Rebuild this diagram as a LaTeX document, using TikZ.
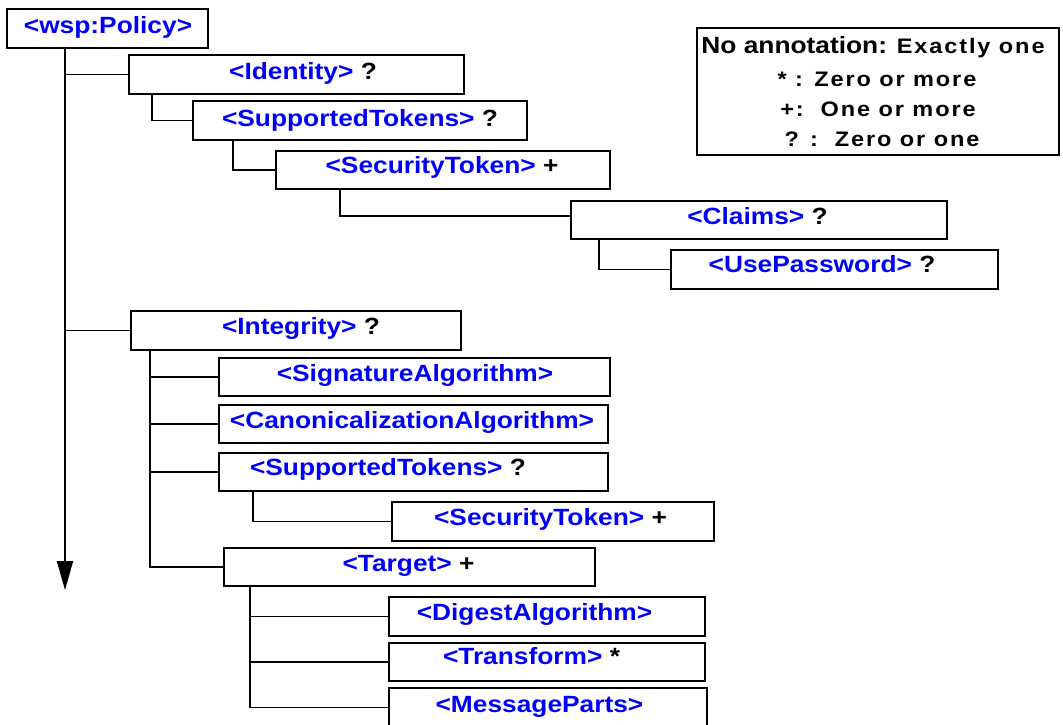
\documentclass[tikz,border=0pt]{standalone}
\usepackage{fontspec}
\setmainfont{Liberation Sans}[FakeStretch=1.12]
\newfontfamily\keyfamily{Liberation Sans}[FakeStretch=1.12, LetterSpace=9]
\usetikzlibrary{arrows.meta}
\definecolor{tagblue}{RGB}{0,0,250}
\newcommand{\mult}[1]{\textcolor{black}{#1}}
\newcommand{\keyfont}{\keyfamily\fontsize{21}{25}\selectfont\bfseries}
\tikzset{
    box/.style 2 args={draw, rectangle, inner sep=0pt, minimum width=#1, minimum height=#2},
    tag/.style={anchor=base, text=tagblue, font=\fontsize{23.5}{28}\selectfont\bfseries},
    keytext/.style={anchor=base, font=\keyfont}
}

\begin{document}
\begin{tikzpicture}[x=1pt, y=-1pt, line width=1.8pt]
    \useasboundingbox (0,0) rectangle (1063,725);

    % Draw the element boxes
    \node[box={201.5pt}{39.5pt}] (policy) at (107.5,28.5) {};
    \node[box={335.5pt}{39.5pt}] (identity) at (296.5,74.5) {};
    \node[box={334.5pt}{39.5pt}] (suptok1) at (360,120.5) {};
    \node[box={334.5pt}{38.5pt}] (sectok1) at (443,170) {};
    \node[box={376.5pt}{38.5pt}] (claims) at (759,220) {};
    \node[box={327.5pt}{39.5pt}] (usepw) at (834.5,269.5) {};
    \node[box={330.5pt}{39.5pt}] (integrity) at (296,330.5) {};
    \node[box={391.5pt}{38.5pt}] (sigalg) at (414.5,377) {};
    \node[box={389.5pt}{38.5pt}] (canon) at (413.5,424) {};
    \node[box={389.5pt}{38.5pt}] (suptok2) at (413.5,472) {};
    \node[box={322.5pt}{39.5pt}] (sectok2) at (553,521.5) {};
    \node[box={371.5pt}{38.5pt}] (target) at (409.5,567) {};
    \node[box={316.5pt}{39.5pt}] (digest) at (547,616.5) {};
    \node[box={316.5pt}{38.5pt}] (transform) at (547,662) {};
    \node[box={318.5pt}{39.5pt}] (msgparts) at (548,707.5) {};

    % Labels of the elements
    \node[tag] (policy-t) at (108,33.5) {<wsp:Policy>};
    \node[tag] (identity-t) at (303,79.5) {<Identity> \mult{?}};
    \node[tag] (suptok1-t) at (360,126.5) {<SupportedTokens> \mult{?}};
    \node[tag] (sectok1-t) at (442,173) {<SecurityToken> \mult{+}};
    \node[tag] (claims-t) at (757.5,224.5) {<Claims> \mult{?}};
    \node[tag] (usepw-t) at (822,272.5) {<UsePassword> \mult{?}};
    \node[tag] (integrity-t) at (301,334.5) {<Integrity> \mult{?}};
    \node[tag] (sigalg-t) at (415,381) {<SignatureAlgorithm>};
    \node[tag] (canon-t) at (412,428.5) {<CanonicalizationAlgorithm>};
    \node[tag] (suptok2-t) at (388,475.5) {<SupportedTokens> \mult{?}};
    \node[tag] (sectok2-t) at (550.5,525.5) {<SecurityToken> \mult{+}};
    \node[tag] (target-t) at (408.5,571) {<Target> \mult{+}};
    \node[tag] (digest-t) at (534.5,620.5) {<DigestAlgorithm>};
    \node[tag] (transform-t) at (531.5,664.5) {<Transform> \mult{*}};
    \node[tag] (msgparts-t) at (539.5,712) {<MessageParts>};

    % Draw the main axis with its two branches
    \coordinate (trunktip) at (65,590);
    \draw[-{Triangle[width=16pt,length=29pt]}] (policy.south -| trunktip) -- (trunktip);
    \draw (identity.west -| trunktip) -- (identity.west);
    \draw (integrity.west -| trunktip) -- (integrity.west);

    % Draw the nested connectors
    \draw ([xshift=24pt]identity.south west) |- (suptok1.west);
    \draw ([xshift=41pt]suptok1.south west) |- (sectok1.west);
    \draw ([xshift=65pt]sectok1.south west) |- ([yshift=4pt]claims.west);
    \draw ([xshift=29pt]claims.south west) |- (usepw.west);
    \foreach \c in {sigalg,canon,suptok2,target}
        \draw ([xshift=20pt]integrity.south west) |- (\c.west);
    \draw ([xshift=35pt]suptok2.south west) |- (sectok2.west);
    \foreach \c in {digest,transform,msgparts}
        \draw ([xshift=27pt]target.south west) |- (\c.west);

    % Legend
    \node[box={362.5pt}{127.5pt}] (legend) at (878,91.5) {};
    \node[anchor=base, font=\fontsize{23.5}{28}\selectfont\bfseries] (legend-1) at (873,54)
        {No annotation: {\keyfont Exactly one}};
    \node[keytext] (legend-2) at (877,86.5) {* : Zero or more};
    \node[keytext] (legend-3) at (878,116.5) {+:\ \ One or more};
    \node[keytext] (legend-4) at (882,146.5) {? :\ \ Zero or one};
\end{tikzpicture}
\end{document}
